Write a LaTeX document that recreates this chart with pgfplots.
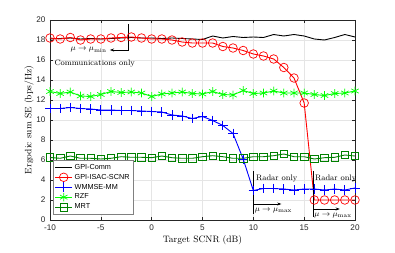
\documentclass[border=0pt]{standalone}
\usepackage{fontspec}
\usepackage{pgfplots}
\pgfplotsset{compat=1.18}
\usetikzlibrary{arrows.meta}
\newfontfamily\hv{Liberation Sans}
\definecolor{mgreen}{rgb}{0,0.5,0}
\definecolor{axgray}{rgb}{0.15,0.15,0.15}
\begin{document}
\begin{tikzpicture}
\begin{axis}[
  scale only axis, width=305bp, height=200bp,
  xmin=-10, xmax=20, ymin=0, ymax=20,
  xtick={-10,-5,...,20}, ytick={0,2,...,20},
  tick pos=both, tick align=inside,
  major tick length=3bp,
  axis line style={axgray, line width=0.5pt},
  every tick/.style={axgray, line width=0.5pt},
  grid=major,
  major grid style={gray!20, line width=0.4pt},
  /pgf/number format/assume math mode=true,
  tick label style={font=\hv\fontsize{8.2}{9.5}\selectfont, text=axgray},
  xticklabel style={yshift=-1.5bp},
  yticklabel style={xshift=-1bp},
  xlabel={Target SCNR (dB)},
  ylabel={Ergodic sum SE (bps/Hz)},
  label style={font=\fontsize{9.3}{11}\selectfont},
  xlabel style={at={(axis description cs:0.5,-0.1)}, anchor=center},
  ylabel style={at={(axis description cs:-0.069,0.5)}, anchor=center},
  legend style={at={(axis description cs:0.01,0.03)}, anchor=south west,
    font=\hv\fontsize{7.3}{8.5}\selectfont, draw=gray, fill=white,
    inner sep=1.5pt, row sep=-0.6pt},
  legend cell align=left,
  every axis plot/.append style={line width=0.9pt},
]
\addplot[black, no marks] coordinates {
(-10,18.1) (-9,18.15) (-8,18.2) (-7,18.1) (-6,18.15) (-5,18.1) (-4,18.15) (-3,18.2) (-2,18.25) (-1,18.2)
(0,18.2) (1,18.15) (2,18.2) (3,18.15) (4,18.1) (5,18.05) (6,18.4) (7,18.2) (8,18.35) (9,18.25)
(10,18.3) (11,18.25) (12,18.55) (13,18.4) (14,18.55) (15,18.4) (16,18.1) (17,18.0) (18,18.25) (19,18.55) (20,18.3)};
\addlegendentry{GPI-Comm}
\addplot[red, mark=o, mark size=4.3bp, mark options={line width=0.7pt}] coordinates {
(-10,18.2) (-9,18.1) (-8,18.25) (-7,18.0) (-6,18.1) (-5,18.1) (-4,18.2) (-3,18.25) (-2,18.3) (-1,18.2)
(0,18.1) (1,18.1) (2,18.0) (3,17.8) (4,17.7) (5,17.7) (6,17.7) (7,17.35) (8,17.2) (9,16.95)
(10,16.6) (11,16.4) (12,16.1) (13,15.25) (14,14.2) (15,11.7) (16,2) (17,2) (18,2) (19,2) (20,2)};
\addlegendentry{GPI-ISAC-SCNR}
\addplot[blue, mark=+, mark size=4.8bp, mark options={line width=0.7pt}] coordinates {
(-10,11.15) (-9,11.15) (-8,11.25) (-7,11.15) (-6,11.1) (-5,11.0) (-4,11.0) (-3,10.95) (-2,10.95) (-1,10.9)
(0,10.85) (1,10.8) (2,10.5) (3,10.4) (4,10.15) (5,10.35) (6,9.95) (7,9.45) (8,8.65) (9,6.1)
(10,2.95) (11,3.15) (12,3.15) (13,3.1) (14,3.0) (15,3.1) (16,3.1) (17,3.0) (18,3.1) (19,3.0) (20,3.2)};
\addlegendentry{WMMSE-MM}
\addplot[green, mark=asterisk, mark size=4.3bp, mark options={line width=0.7pt}] coordinates {
(-10,12.85) (-9,12.65) (-8,12.8) (-7,12.4) (-6,12.35) (-5,12.55) (-4,12.85) (-3,12.75) (-2,12.8) (-1,12.7)
(0,12.35) (1,12.6) (2,12.7) (3,12.8) (4,12.65) (5,12.6) (6,12.85) (7,12.55) (8,12.5) (9,12.95)
(10,12.65) (11,12.7) (12,12.9) (13,12.7) (14,12.7) (15,12.7) (16,12.55) (17,12.45) (18,12.65) (19,12.7) (20,12.9)};
\addlegendentry{RZF}
\addplot[mgreen, mark=square, mark size=3.8bp, mark options={line width=0.7pt}] coordinates {
(-10,6.25) (-9,6.17) (-8,6.4) (-7,6.17) (-6,6.17) (-5,6.1) (-4,6.17) (-3,6.33) (-2,6.27) (-1,6.27)
(0,6.23) (1,6.4) (2,6.23) (3,6.17) (4,6.17) (5,6.33) (6,6.43) (7,6.33) (8,6.17) (9,6.17)
(10,6.33) (11,6.33) (12,6.43) (13,6.6) (14,6.33) (15,6.33) (16,6.1) (17,6.23) (18,6.27) (19,6.5) (20,6.4)};
\addlegendentry{MRT}
% annotations
\draw[black, line width=0.5pt] (axis cs:-2.3,19.6) -- (axis cs:-2.3,16.85);
\draw[black, line width=0.5pt, -{Stealth[length=4bp,width=3bp]}] (axis cs:-2.3,17.0) -- (axis cs:-4.1,17.0);
\node[font=\fontsize{8}{9}\selectfont, inner sep=0pt] at (axis cs:-6.2,17.0) {$\mu\rightarrow\mu_{\min}$};
\node[font=\fontsize{8}{9}\selectfont, inner sep=0pt] at (axis cs:-5.6,15.6) {Communications only};
\draw[black, line width=0.5pt] (axis cs:10,4.85) -- (axis cs:10,0.65);
\draw[black, line width=0.5pt, -{Stealth[length=4bp,width=3bp]}] (axis cs:10,1.6) -- (axis cs:12.75,1.6);
\node[font=\fontsize{8}{9}\selectfont, inner sep=0pt, anchor=west] at (axis cs:10.25,4.1) {Radar only};
\node[font=\fontsize{8}{9}\selectfont, inner sep=0pt, anchor=west] at (axis cs:10.12,0.93) {$\mu\rightarrow\mu_{\max}$};
\draw[black, line width=0.5pt] (axis cs:15.9,4.9) -- (axis cs:15.9,0.35);
\draw[black, line width=0.5pt, -{Stealth[length=4bp,width=3bp]}] (axis cs:15.9,1.1) -- (axis cs:18.5,1.1);
\node[font=\fontsize{8}{9}\selectfont, inner sep=0pt, anchor=west] at (axis cs:16.05,4.1) {Radar only};
\node[font=\fontsize{8}{9}\selectfont, inner sep=0pt, anchor=west] at (axis cs:15.98,0.43) {$\mu\rightarrow\mu_{\max}$};
\end{axis}
\pgfresetboundingbox
\path[use as bounding box] (-50bp,-33bp) rectangle (345bp,220bp);
\end{tikzpicture}
\end{document}
